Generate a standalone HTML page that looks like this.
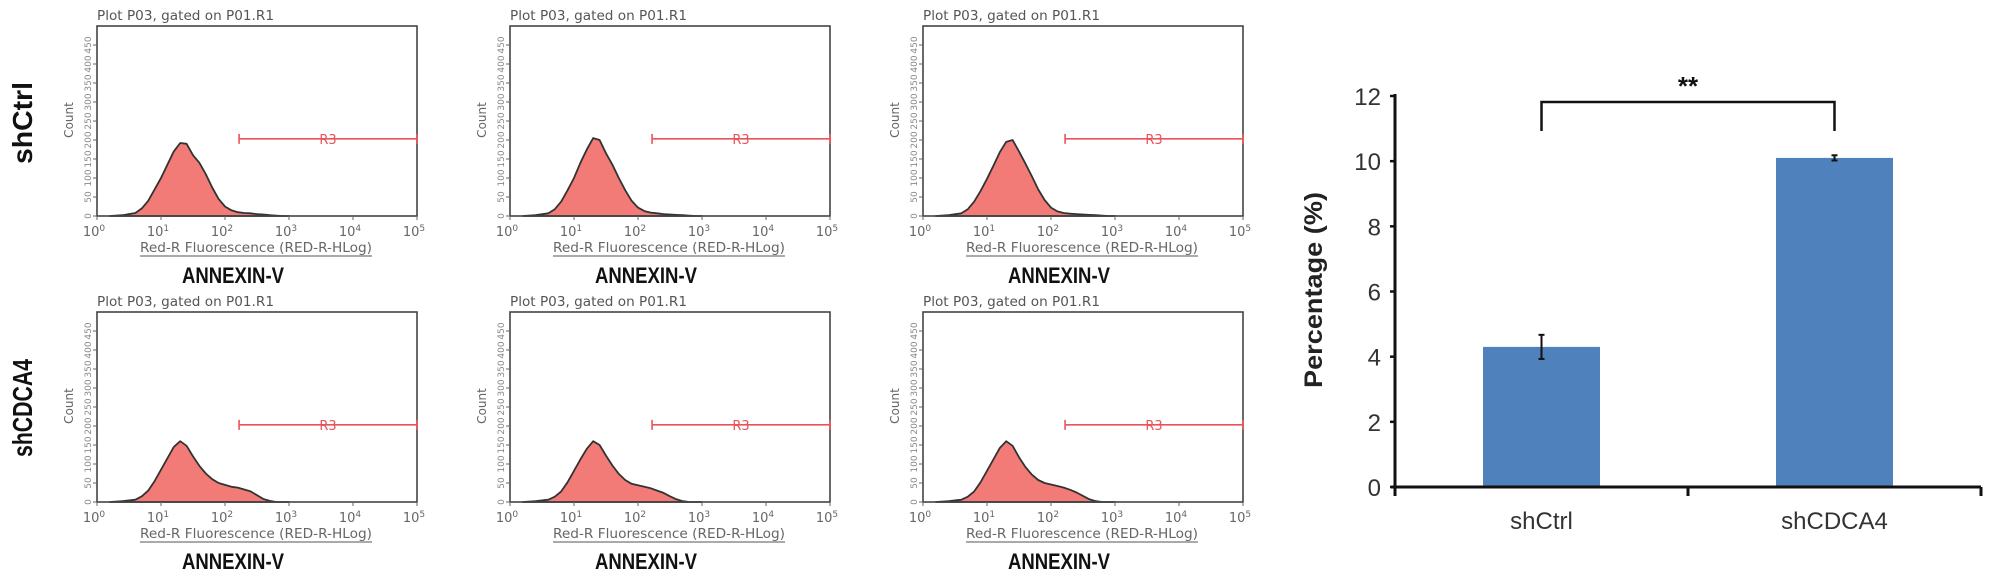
<!DOCTYPE html>
<html><head><meta charset="utf-8"><style>
html,body{margin:0;padding:0;background:#fff;}
svg{display:block;font-family:"Liberation Sans",Arial,sans-serif;}
</style></head><body>
<svg id="fig" width="2008" height="581" viewBox="0 0 2008 581"></svg>
<script>
// ---- Flow cytometry histogram data (log10 fluorescence vs count) ----
const histLogX = [0.2,0.4,0.6,0.7,0.8,0.9,1.0,1.1,1.2,1.3,1.4,1.5,1.6,1.7,1.8,1.9,2.0,2.1,2.2,2.3,2.4,2.5,2.6,2.7,2.8,2.9,3.0];
const ctrlCounts1 = [0,2,8,20,40,70,100,135,170,192,190,160,140,110,75,45,25,15,10,8,7,5,4,2,1,0,0];
const ctrlCounts2 = [0,2,7,18,38,68,100,140,175,205,200,165,135,100,68,40,22,13,9,7,5,4,3,2,1,0,0];
const ctrlCounts3 = [0,2,7,18,38,66,98,132,168,195,200,170,138,105,70,42,22,12,8,6,5,4,3,2,1,0,0];
const kdCounts1 = [0,2,6,15,30,55,85,115,145,160,148,120,95,75,60,50,45,40,38,33,28,18,8,3,0,0,0];
const kdCounts2 = [0,2,6,14,28,52,82,112,140,160,150,122,96,74,58,48,44,40,36,30,24,15,7,2,0,0,0];
const kdCounts3 = [0,2,6,14,28,52,82,112,142,160,148,118,92,72,58,50,46,42,38,32,25,16,7,2,0,0,0];
const countTicks = [0,50,100,150,200,250,300,350,400,450];
const decadeTicks = [0,1,2,3,4,5];
const gateStart = 2.22, gateEnd = 5, gateLevel = 203;

// ---- Bar chart data ----
const barCategories = ["shCtrl","shCDCA4"];
const barValues = [4.3, 10.1];
const barErrors = [0.37, 0.08];
const yTicks = [0,2,4,6,8,10,12];

const NS = "http://www.w3.org/2000/svg";
const svg = document.getElementById("fig");
function el(tag, attrs, parent, text){
  const e = document.createElementNS(NS, tag);
  for (const k in attrs) e.setAttribute(k, attrs[k]);
  if (text !== undefined) e.textContent = text;
  (parent||svg).appendChild(e);
  return e;
}

const panels = [
  {c:0,r:0,d:ctrlCounts1},{c:1,r:0,d:ctrlCounts2},{c:2,r:0,d:ctrlCounts3},
  {c:0,r:1,d:kdCounts1},{c:1,r:1,d:kdCounts2},{c:2,r:1,d:kdCounts3}
];
panels.forEach((p, i) => {
  const ox = p.c*413, oy = p.r*286;
  const L = 97+ox, R = 417+ox, T = 26+oy, B = 216+oy;
  const xs = v => L + (v/5)*(R-L);
  const ys = v => B - v*(B-(45+oy))/450;
  const g = el("g", {});
  
  
  const t = el("text", {x:L, y:T-6, "font-size":13, fill:"#555", textLength:177, lengthAdjust:"spacingAndGlyphs", "font-family":"DejaVu Sans, sans-serif"}, g, "Plot P03, gated on P01.R1");
  
  
  let d = "M" + xs(histLogX[0]) + "," + ys(0);
  histLogX.forEach((lx, k) => { d += " L" + xs(lx).toFixed(1) + "," + ys(p.d[k]).toFixed(1); });
  d += " L" + xs(histLogX[histLogX.length-1]) + "," + ys(0) + " Z";
  const h = el("path", {d:d, fill:"#f27b78", stroke:"#333", "stroke-width":1.8, "stroke-linejoin":"round"}, g);
  
  
  const box = el("rect", {x:L, y:T, width:R-L, height:B-T, fill:"none", stroke:"#444", "stroke-width":1.6}, g);
  
  
  countTicks.forEach(v => {
    el("line", {x1:L-4, x2:L, y1:ys(v), y2:ys(v), stroke:"#666"}, g);
    const tl = el("text", {x:0, y:0, "font-size":9, fill:"#888", "text-anchor":"middle",
      transform:"translate("+(L-6)+","+ys(v)+") rotate(-90)", "font-family":"DejaVu Sans, sans-serif"}, g, String(v));
    
    
  });
  const cl = el("text", {x:0, y:0, "font-size":12, fill:"#666", "text-anchor":"middle",
    transform:"translate("+(L-24)+","+(oy+120)+") rotate(-90)", "font-family":"DejaVu Sans, sans-serif"}, g, "Count");
  
  
  decadeTicks.forEach(v => {
    el("line", {x1:xs(v), x2:xs(v), y1:B, y2:B+4, stroke:"#666"}, g);
    const xl = el("text", {x:xs(v)-3, y:B+20, "font-size":13, fill:"#666", "text-anchor":"middle", "font-family":"DejaVu Sans, sans-serif"}, g);
    
    
    xl.appendChild(document.createTextNode("10"));
    el("tspan", {dy:-5, "font-size":9}, xl, String(v));
  });
  const xa = el("text", {x:L+159, y:B+36, "font-size":13, fill:"#666", "text-anchor":"middle", textLength:232, lengthAdjust:"spacingAndGlyphs", "font-family":"DejaVu Sans, sans-serif"}, g, "Red-R Fluorescence (RED-R-HLog)");
  
  
  el("line", {x1:L+43, x2:L+275, y1:B+40, y2:B+40, stroke:"#777", "stroke-width":1.2}, g);
  const gy = ys(gateLevel);
  const gate = el("g", {}, g);
  
  
  el("line", {x1:xs(gateStart), x2:xs(gateEnd), y1:gy, y2:gy, stroke:"#e8545a", "stroke-width":1.6}, gate);
  el("line", {x1:xs(gateStart), x2:xs(gateStart), y1:gy-5, y2:gy+5, stroke:"#e8545a", "stroke-width":1.6}, gate);
  el("line", {x1:xs(gateEnd), x2:xs(gateEnd), y1:gy-5, y2:gy+5, stroke:"#e8545a", "stroke-width":1.6}, gate);
  el("text", {x:(xs(gateStart)+xs(gateEnd))/2, y:gy+5, "font-size":13, fill:"#e8545a", "text-anchor":"middle", "font-family":"DejaVu Sans, sans-serif"}, gate, "R3");
  const an = el("text", {x:L+136, y:oy+283, "font-size":22, "font-weight":"bold", fill:"#111", "text-anchor":"middle", textLength:102, lengthAdjust:"spacingAndGlyphs"}, g, "ANNEXIN-V");
  
  
});
[["shCtrl",123,82],["shCDCA4",408,98]].forEach(r => {
  const t = el("text", {x:0, y:0, "font-size":28, "font-weight":"bold", fill:"#111", "text-anchor":"middle",
    textLength:r[2], lengthAdjust:"spacingAndGlyphs", transform:"translate(32,"+r[1]+") rotate(-90)"}, svg, r[0]);
  
  
});

// ---- Bar chart ----
const AX = 1395, AXR = 1981, Y0 = 487, YTOP = 96;
const yb = v => Y0 - v*(Y0-YTOP)/12;
const catW = (AXR-AX)/barCategories.length;
const xc = i => AX + catW*(i+0.5);
const barW = 117;
const bg = el("g", {});


barCategories.forEach((c, i) => {
  const b = el("rect", {x:xc(i)-barW/2, y:yb(barValues[i]), width:barW, height:Y0-yb(barValues[i]), fill:"#4f81bd"}, bg);
  
  
  const e = el("g", {stroke:"#111", "stroke-width":2}, bg);
  
  
  el("line", {x1:xc(i), x2:xc(i), y1:yb(barValues[i]+barErrors[i]), y2:yb(barValues[i]-barErrors[i])}, e);
  el("line", {x1:xc(i)-3, x2:xc(i)+3, y1:yb(barValues[i]+barErrors[i]), y2:yb(barValues[i]+barErrors[i])}, e);
  el("line", {x1:xc(i)-3, x2:xc(i)+3, y1:yb(barValues[i]-barErrors[i]), y2:yb(barValues[i]-barErrors[i])}, e);
  const l = el("text", {x:xc(i), y:Y0+42, "font-size":24, fill:"#333", "text-anchor":"middle"}, bg, c);
  
  
});
el("line", {x1:AX, x2:AX, y1:YTOP-2, y2:Y0+9, stroke:"#111", "stroke-width":3}, bg);
el("line", {x1:AX-4, x2:AXR, y1:Y0, y2:Y0, stroke:"#111", "stroke-width":3}, bg);
[0,1,2].forEach(k => el("line", {x1:AX+catW*k, x2:AX+catW*k, y1:Y0, y2:Y0+9, stroke:"#111", "stroke-width":3}, bg));
yTicks.forEach(v => {
  el("line", {x1:AX-5, x2:AX, y1:yb(v), y2:yb(v), stroke:"#111", "stroke-width":2.5}, bg);
  const t = el("text", {x:AX-14, y:yb(v)+9, "font-size":24, fill:"#333", "text-anchor":"end"}, bg, String(v));
  
  
});
const yt = el("text", {x:0, y:0, "font-size":25, "font-weight":"bold", fill:"#222", "text-anchor":"middle",
  transform:"translate(1322,290) rotate(-90)", textLength:196, lengthAdjust:"spacingAndGlyphs"}, bg, "Percentage (%)");


const br = el("path", {d:"M"+xc(0)+",131 L"+xc(0)+",102 L"+xc(1)+",102 L"+xc(1)+",131", fill:"none", stroke:"#111", "stroke-width":2.5}, bg);


const st = el("text", {x:(xc(0)+xc(1))/2, y:95, "font-size":26, "font-weight":"bold", fill:"#111", "text-anchor":"middle"}, bg, "**");


</script>
</body></html>
